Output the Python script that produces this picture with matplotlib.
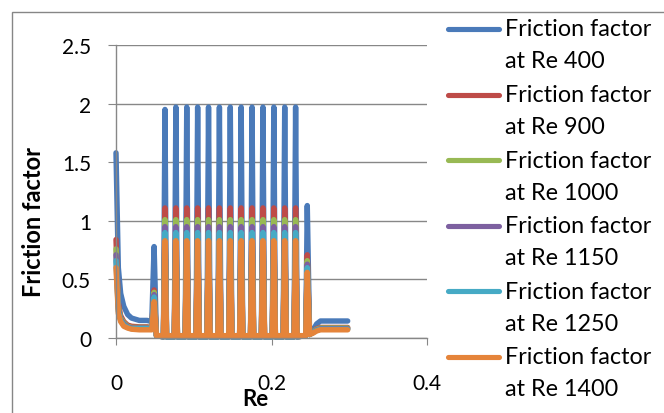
import matplotlib
matplotlib.use("Agg")
import matplotlib.pyplot as plt
from matplotlib.lines import Line2D
from matplotlib.patches import Rectangle

# shared x positions (Re axis)
x_re = [0.000, 0.003, 0.006, 0.010, 0.015, 0.020, 0.030, 0.040, 0.046, 0.049, 0.052,
        0.061, 0.063, 0.065, 0.075, 0.077, 0.079, 0.089, 0.091, 0.093,
        0.103, 0.105, 0.107, 0.117, 0.119, 0.121, 0.131, 0.133, 0.135,
        0.145, 0.147, 0.149, 0.159, 0.161, 0.163, 0.173, 0.175, 0.177,
        0.187, 0.189, 0.191, 0.201, 0.203, 0.205, 0.215, 0.217, 0.219,
        0.229, 0.231, 0.233,
        0.244, 0.246, 0.249, 0.253, 0.258, 0.263, 0.270, 0.298]

f_re400 = [1.58, 0.60, 0.38, 0.27, 0.20, 0.17, 0.15, 0.15, 0.14, 0.78, 0.02,
           0.01, 1.95, 0.01, 0.01, 1.97, 0.01, 0.01, 1.97, 0.01,
           0.01, 1.97, 0.01, 0.01, 1.97, 0.01, 0.01, 1.97, 0.01,
           0.01, 1.97, 0.01, 0.01, 1.97, 0.01, 0.01, 1.97, 0.01,
           0.01, 1.97, 0.01, 0.01, 1.97, 0.01, 0.01, 1.97, 0.01,
           0.01, 1.97, 0.01,
           0.02, 1.13, 0.03, 0.06, 0.12, 0.145, 0.145, 0.145]

f_re900 = [0.84, 0.30, 0.19, 0.14, 0.11, 0.10, 0.095, 0.095, 0.09, 0.41, 0.02,
           0.01, 1.11, 0.01, 0.01, 1.11, 0.01, 0.01, 1.11, 0.01,
           0.01, 1.11, 0.01, 0.01, 1.11, 0.01, 0.01, 1.11, 0.01,
           0.01, 1.11, 0.01, 0.01, 1.11, 0.01, 0.01, 1.11, 0.01,
           0.01, 1.11, 0.01, 0.01, 1.11, 0.01, 0.01, 1.11, 0.01,
           0.01, 1.11, 0.01,
           0.02, 0.71, 0.03, 0.05, 0.08, 0.09, 0.09, 0.09]

f_re1000 = [0.76, 0.27, 0.17, 0.13, 0.10, 0.09, 0.09, 0.09, 0.085, 0.39, 0.02,
            0.01, 1.01, 0.01, 0.01, 1.01, 0.01, 0.01, 1.01, 0.01,
            0.01, 1.01, 0.01, 0.01, 1.01, 0.01, 0.01, 1.01, 0.01,
            0.01, 1.01, 0.01, 0.01, 1.01, 0.01, 0.01, 1.01, 0.01,
            0.01, 1.01, 0.01, 0.01, 1.01, 0.01, 0.01, 1.01, 0.01,
            0.01, 1.01, 0.01,
            0.02, 0.66, 0.03, 0.05, 0.075, 0.085, 0.085, 0.085]

f_re1150 = [0.71, 0.25, 0.16, 0.12, 0.095, 0.085, 0.085, 0.085, 0.08, 0.37, 0.02,
            0.01, 0.95, 0.01, 0.01, 0.95, 0.01, 0.01, 0.95, 0.01,
            0.01, 0.95, 0.01, 0.01, 0.95, 0.01, 0.01, 0.95, 0.01,
            0.01, 0.95, 0.01, 0.01, 0.95, 0.01, 0.01, 0.95, 0.01,
            0.01, 0.95, 0.01, 0.01, 0.95, 0.01, 0.01, 0.95, 0.01,
            0.01, 0.95, 0.01,
            0.02, 0.63, 0.03, 0.045, 0.07, 0.08, 0.08, 0.08]

f_re1250 = [0.66, 0.23, 0.15, 0.11, 0.09, 0.08, 0.08, 0.08, 0.075, 0.35, 0.02,
            0.01, 0.90, 0.01, 0.01, 0.90, 0.01, 0.01, 0.90, 0.01,
            0.01, 0.90, 0.01, 0.01, 0.90, 0.01, 0.01, 0.90, 0.01,
            0.01, 0.90, 0.01, 0.01, 0.90, 0.01, 0.01, 0.90, 0.01,
            0.01, 0.90, 0.01, 0.01, 0.90, 0.01, 0.01, 0.90, 0.01,
            0.01, 0.90, 0.01,
            0.02, 0.60, 0.03, 0.045, 0.065, 0.075, 0.075, 0.075]

f_re1400 = [0.60, 0.21, 0.14, 0.10, 0.085, 0.075, 0.07, 0.07, 0.07, 0.31, 0.02,
            0.02, 0.83, 0.02, 0.02, 0.83, 0.02, 0.02, 0.83, 0.02,
            0.02, 0.83, 0.02, 0.02, 0.83, 0.02, 0.02, 0.83, 0.02,
            0.02, 0.83, 0.02, 0.02, 0.83, 0.02, 0.02, 0.83, 0.02,
            0.02, 0.83, 0.02, 0.02, 0.83, 0.02, 0.02, 0.83, 0.02,
            0.02, 0.83, 0.02,
            0.02, 0.56, 0.03, 0.04, 0.06, 0.07, 0.07, 0.07]

series = [f_re400, f_re900, f_re1000, f_re1150, f_re1250, f_re1400]
labels = ['Friction factor\nat Re 400', 'Friction factor\nat Re 900',
          'Friction factor\nat Re 1000', 'Friction factor\nat Re 1150',
          'Friction factor\nat Re 1250', 'Friction factor\nat Re 1400']
colors = ['#4A7AB9', '#BE4B48', '#98B954', '#7D60A0', '#46AAC5', '#E5843A']

plt.rcParams['font.family'] = ['Lato', 'DejaVu Sans']

W, H = 664, 414
fig = plt.figure(figsize=(W / 100, H / 100), dpi=100)

def fx(px):
    return px / W

def fy(py):
    return 1 - py / H

# outer chart border
fig.add_artist(Rectangle((fx(12), -0.1), 1.2, fy(13) + 0.1, transform=fig.transFigure,
                         fill=False, edgecolor='#868686', linewidth=1.0))

ax = fig.add_axes([fx(116), fy(339), fx(427) - fx(116), fy(46) - fy(339)])

for ys, c in zip(series, colors):
    ax.plot(x_re, ys, color=c, linewidth=3.9, solid_capstyle='round',
            solid_joinstyle='round', clip_on=False)

ax.set_xlim(0, 0.4)
ax.set_ylim(0, 2.5)
ax.set_xticks([0, 0.2, 0.4])
ax.set_xticklabels(['0', '0.2', '0.4'])
ax.set_yticks([0, 0.5, 1, 1.5, 2, 2.5])
ax.set_yticklabels(['0', '0.5', '1', '1.5', '2', '2.5'])
ax.grid(axis='y', color='#878787', linewidth=1.0)
ax.set_axisbelow(True)
for s in ['top', 'right']:
    ax.spines[s].set_visible(False)
for s in ['left', 'bottom']:
    ax.spines[s].set_color('#878787')
    ax.spines[s].set_linewidth(1.0)
ax.tick_params(axis='x', direction='out', length=5, color='#878787', pad=20, labelsize=15)
ax.tick_params(axis='y', direction='out', length=6, color='#878787', pad=12, labelsize=15)

fig.text(fx(34), fy(222), 'Friction factor', rotation=90, fontsize=17,
         fontweight='bold', ha='center', va='center')
fig.text(fx(255), fy(400), 'Re', fontsize=16, fontweight='bold', ha='center', va='center')

# legend drawn by hand so the line sits on the first text line
for i, (lab, c) in enumerate(zip(labels, colors)):
    yl = 30 + i * 65.6
    fig.add_artist(Line2D([fx(448), fx(499)], [fy(yl), fy(yl)], color=c, linewidth=3.7,
                          solid_capstyle='round', transform=fig.transFigure))
    first, second = lab.split('\n')
    fig.text(fx(505), fy(yl), first, fontsize=16.8, ha='left', va='center')
    fig.text(fx(505), fy(yl + 32), second, fontsize=16.8, ha='left', va='center')

fig.savefig('out.png', dpi=100)
